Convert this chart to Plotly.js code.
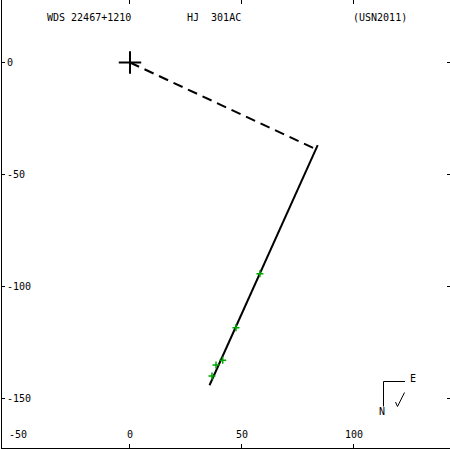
<!DOCTYPE html>
<html>
<head>
<meta charset="utf-8">
<script src="https://cdn.plot.ly/plotly-3.0.1.min.js"></script>
<style>html,body{margin:0;padding:0;background:#fff;}#chart{width:450px;height:450px;}</style>
</head>
<body>
<div id="chart"></div>
<script>
// ---- data ----
const primaryX = [0];
const primaryY = [0];
const orbitX = [83.8, 35.5];
const orbitY = [-36.9, -144.1];
const predX = [0, 83.0];
const predY = [0, -38.7];
const obsX = [58.0, 47.3, 41.4, 38.4, 36.6];
const obsY = [-94.3, -118.4, -132.9, -135.1, -140.0];
const xTickVals = [-50, 0, 50, 100];
const xTickText = ['-50', '0', '50', '100'];
const yTickVals = [0, -50, -100, -150];
const yTickText = ['0', '-50', '-100', '-150'];
const titleLeft = 'WDS 22467+1210';
const titleMid = 'HJ\u00A0\u00A0301AC';
const titleRight = '(USN2011)';

// ---- layout helpers ----
const W = 450, H = 450, ML = 2, MB = 2;
const PW = W - ML, PH = H - MB;
const px = p => (p - ML) / PW;
const py = p => (PH - p) / PH;
const font = {family: 'DejaVu Sans Mono, monospace', size: 10, color: '#000'};
const xRange = [-57.14, 142.86];
const yRange = [-172.1, 27.9];

const traces = [
  {x: predX, y: predY, mode: 'lines', line: {color: '#000', width: 2, dash: '10px,6px'}, hoverinfo: 'skip'},
  {x: orbitX, y: orbitY, mode: 'lines', line: {color: '#000', width: 2}, hoverinfo: 'skip'},
  {x: obsX, y: obsY, mode: 'markers', marker: {symbol: 'cross-thin', size: 5, line: {color: '#00a800', width: 1.5}}, hoverinfo: 'skip'},
  {x: primaryX, y: primaryY, mode: 'markers', marker: {symbol: 'cross-thin', size: 16, line: {color: '#000', width: 2}}, hoverinfo: 'skip'}
];

const axCommon = {showgrid: false, zeroline: false, fixedrange: true};
const xLabelAnns = xTickVals.map((v, i) => ({
  text: xTickText[i], xref: 'x', yref: 'paper', x: v, y: py(434.5),
  xanchor: 'center', yanchor: 'middle', showarrow: false, font: font
}));
const layout = {
  width: W, height: H,
  margin: {l: ML, r: 0, t: 0, b: MB, pad: 0},
  paper_bgcolor: '#fff', plot_bgcolor: '#fff',
  showlegend: false,
  font: font,
  xaxis: Object.assign({}, axCommon, {
    range: xRange, tickmode: 'array', tickvals: xTickVals, ticktext: xTickText,
    ticks: 'inside', ticklen: 4, tickwidth: 1, tickcolor: '#000',
    showticklabels: false, mirror: 'ticks',
    showline: true, linecolor: '#000', linewidth: 1
  }),
  yaxis: Object.assign({}, axCommon, {
    range: yRange, tickmode: 'array', tickvals: yTickVals, ticktext: yTickText,
    ticks: 'inside', ticklen: 3, tickwidth: 1, tickcolor: '#000',
    ticklabelposition: 'inside', ticklabelstandoff: 1, mirror: 'ticks',
    showline: true, linecolor: '#000', linewidth: 1, tickfont: font
  }),
  annotations: [
    {text: titleLeft, xref: 'paper', yref: 'paper', x: px(45), y: py(17), xanchor: 'left', yanchor: 'middle', showarrow: false, font: font},
    {text: titleMid, xref: 'paper', yref: 'paper', x: px(185), y: py(17), xanchor: 'left', yanchor: 'middle', showarrow: false, font: font},
    {text: titleRight, xref: 'paper', yref: 'paper', x: px(351), y: py(17), xanchor: 'left', yanchor: 'middle', showarrow: false, font: font},
    {text: 'E', xref: 'paper', yref: 'paper', x: px(413), y: py(378), xanchor: 'center', yanchor: 'middle', showarrow: false, font: font},
    {text: 'N', xref: 'paper', yref: 'paper', x: px(382), y: py(411), xanchor: 'center', yanchor: 'middle', showarrow: false, font: font}
  ].concat(xLabelAnns),
  shapes: [
    {type: 'line', xref: 'paper', yref: 'paper', x0: px(383.5), y0: py(381.5), x1: px(383.5), y1: py(406.5), line: {color: '#000', width: 1}},
    {type: 'line', xref: 'paper', yref: 'paper', x0: px(383.5), y0: py(381.5), x1: px(405), y1: py(381.5), line: {color: '#000', width: 1}},
    {type: 'line', xref: 'paper', yref: 'paper', x0: px(404.5), y0: py(392.5), x1: px(397.5), y1: py(406.5), line: {color: '#000', width: 1}},
    {type: 'line', xref: 'paper', yref: 'paper', x0: px(395.5), y0: py(402), x1: px(397.5), y1: py(406.5), line: {color: '#000', width: 1}}
  ]
};

Plotly.newPlot('chart', traces, layout, {staticPlot: true, displayModeBar: false});
</script>
</body>
</html>
